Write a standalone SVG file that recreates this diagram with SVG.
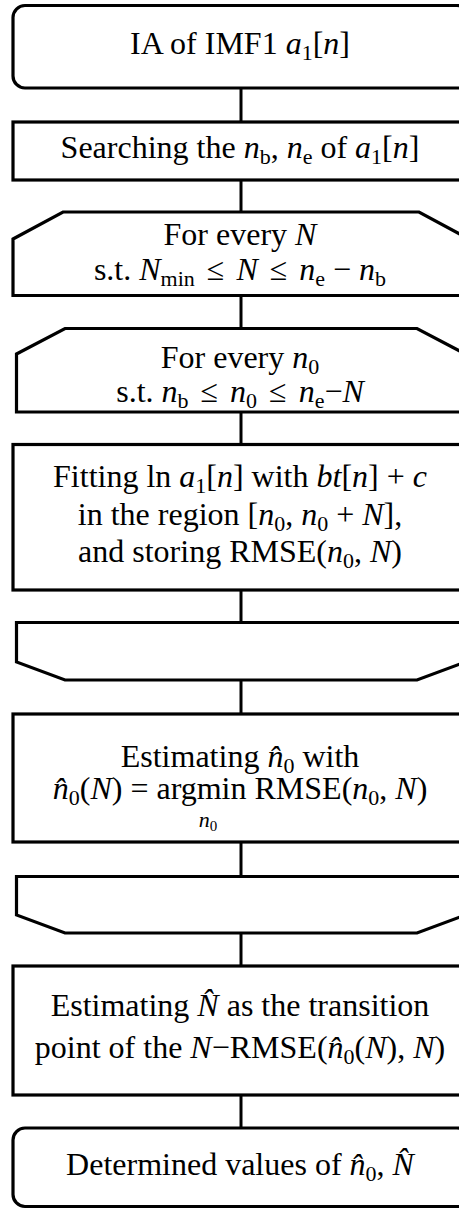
<svg xmlns="http://www.w3.org/2000/svg" width="459" height="1209" viewBox="0 0 459 1209">
<style>
.s{fill:#fff;stroke:#000;stroke-width:3.2;stroke-linejoin:miter}
.c{stroke:#000;stroke-width:3;fill:none}
text{font-family:"Liberation Serif","Times New Roman",serif;font-size:32px;fill:#000;text-anchor:middle}
.i{font-style:italic}
.sb{font-size:22px}
</style>
<rect width="459" height="1209" fill="#fff"/>
<g id="connectors">
<line class="c" x1="241" y1="88" x2="241" y2="122"/>
<line class="c" x1="241" y1="180" x2="241" y2="212"/>
<line class="c" x1="241" y1="295" x2="241" y2="329"/>
<line class="c" x1="241" y1="412" x2="241" y2="444"/>
<line class="c" x1="241" y1="590" x2="241" y2="622"/>
<line class="c" x1="241" y1="680" x2="241" y2="714"/>
<line class="c" x1="241" y1="842" x2="241" y2="876"/>
<line class="c" x1="241" y1="933" x2="241" y2="966"/>
<line class="c" x1="241" y1="1095" x2="241" y2="1128"/>
</g>
<g id="n1">
<rect class="s" x="13" y="5.5" width="456" height="82.5" rx="12"/>
<text x="240" y="54">IA of IMF1 <tspan class="i">a</tspan><tspan class="sb" dy="6">1</tspan><tspan dy="-6">[</tspan><tspan class="i">n</tspan>]</text>
</g>
<g id="n2">
<rect class="s" x="13" y="122" width="456" height="58"/>
<text x="240" y="158">Searching the <tspan class="i">n</tspan><tspan class="sb" dy="6">b</tspan><tspan dy="-6">, </tspan><tspan class="i">n</tspan><tspan class="sb" dy="6">e</tspan><tspan dy="-6"> of </tspan><tspan class="i">a</tspan><tspan class="sb" dy="6">1</tspan><tspan dy="-6">[</tspan><tspan class="i">n</tspan>]</text>
</g>
<g id="n3">
<path class="s" d="M13,239 L63,212 L419,212 L469,239 L469,295.5 L13,295.5 Z"/>
<text x="240" y="245">For every <tspan class="i">N</tspan></text>
<text x="240" y="280">s.t. <tspan class="i">N</tspan><tspan class="sb" dy="6">min</tspan><tspan dy="-6" dx="4"> ≤</tspan><tspan dx="4"> </tspan><tspan class="i">N</tspan><tspan dx="4"> ≤</tspan><tspan dx="4"> </tspan><tspan class="i">n</tspan><tspan class="sb" dy="6">e</tspan><tspan dy="-6"> − </tspan><tspan class="i">n</tspan><tspan class="sb" dy="6">b</tspan></text>
</g>
<g id="n4">
<path class="s" d="M16.5,354 L65,328.5 L417,328.5 L465.5,354 L465.5,412 L16.5,412 Z"/>
<text x="240" y="368">For every <tspan class="i">n</tspan><tspan class="sb" dy="6">0</tspan></text>
<text x="240" y="402">s.t. <tspan class="i">n</tspan><tspan class="sb" dy="6">b</tspan><tspan dy="-6" dx="4"> ≤</tspan><tspan dx="4"> </tspan><tspan class="i">n</tspan><tspan class="sb" dy="6">0</tspan><tspan dy="-6" dx="4"> ≤</tspan><tspan dx="4"> </tspan><tspan class="i">n</tspan><tspan class="sb" dy="6">e</tspan><tspan dy="-6">−</tspan><tspan class="i">N</tspan></text>
</g>
<g id="n5">
<rect class="s" x="13" y="444.5" width="456" height="145.5"/>
<text x="240" y="487">Fitting ln <tspan class="i">a</tspan><tspan class="sb" dy="6">1</tspan><tspan dy="-6">[</tspan><tspan class="i">n</tspan>] with <tspan class="i">bt</tspan>[<tspan class="i">n</tspan>] + <tspan class="i">c</tspan></text>
<text x="240" y="525">in the region [<tspan class="i">n</tspan><tspan class="sb" dy="6">0</tspan><tspan dy="-6">, </tspan><tspan class="i">n</tspan><tspan class="sb" dy="6">0</tspan><tspan dy="-6"> + </tspan><tspan class="i">N</tspan>],</text>
<text x="240" y="562">and storing RMSE(<tspan class="i">n</tspan><tspan class="sb" dy="6">0</tspan><tspan dy="-6">, </tspan><tspan class="i">N</tspan>)</text>
</g>
<g id="n6">
<path class="s" d="M16.5,622.5 L465.5,622.5 L465.5,662 L417,680 L65,680 L16.5,662 Z"/>
</g>
<g id="n7">
<rect class="s" x="13" y="714" width="456" height="128"/>
<text x="240" y="767">Estimating <tspan class="i">n̂</tspan><tspan class="sb" dy="6">0</tspan><tspan dy="-6"> with</tspan></text>
<text x="240" y="799"><tspan class="i">n̂</tspan><tspan class="sb" dy="6">0</tspan><tspan dy="-6">(</tspan><tspan class="i">N</tspan>) = argmin RMSE(<tspan class="i">n</tspan><tspan class="sb" dy="6">0</tspan><tspan dy="-6">, </tspan><tspan class="i">N</tspan>)</text>
<text x="208" y="827" class="sb"><tspan class="i">n</tspan><tspan dy="4" font-size="15">0</tspan></text>
</g>
<g id="n8">
<path class="s" d="M16.5,876.5 L465.5,876.5 L465.5,915 L417,933 L65,933 L16.5,915 Z"/>
</g>
<g id="n9">
<rect class="s" x="13" y="966" width="456" height="129"/>
<text x="240" y="1016">Estimating <tspan class="i">N̂</tspan> as the transition</text>
<text x="240" y="1058">point of the <tspan class="i">N</tspan>−RMSE(<tspan class="i">n̂</tspan><tspan class="sb" dy="6">0</tspan><tspan dy="-6">(</tspan><tspan class="i">N</tspan>), <tspan class="i">N</tspan>)</text>
</g>
<g id="n10">
<rect class="s" x="13" y="1128" width="456" height="78.5" rx="12"/>
<text x="240" y="1175">Determined values of <tspan class="i">n̂</tspan><tspan class="sb" dy="6">0</tspan><tspan dy="-6">, </tspan><tspan class="i">N̂</tspan></text>
</g>
</svg>
